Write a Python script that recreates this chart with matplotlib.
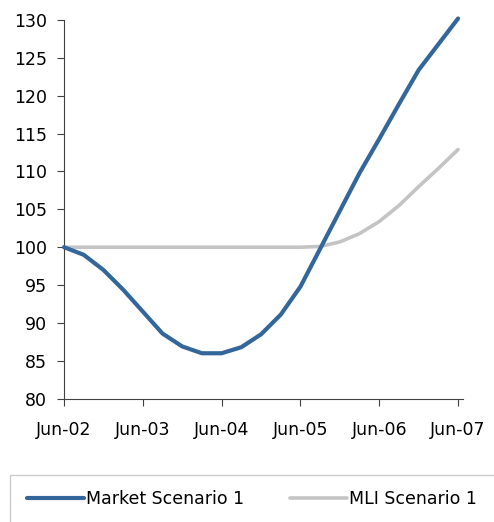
import numpy as np
import matplotlib
matplotlib.use('Agg')
import matplotlib.pyplot as plt
from matplotlib.patches import Rectangle

# quarterly points, Jun-02 .. Jun-07
market = [100, 99, 97, 94.4, 91.5, 88.6, 86.9, 86.0, 86.0, 86.8, 88.5, 91.1,
          94.8, 99.8, 104.8, 109.8, 114.3, 118.9, 123.4, 126.8, 130.2]
mli = [100, 100, 100, 100, 100, 100, 100, 100, 100, 100, 100, 100,
       100, 100.1, 100.7, 101.8, 103.4, 105.5, 108.0, 110.4, 112.9]
year_labels = ['Jun-02', 'Jun-03', 'Jun-04', 'Jun-05', 'Jun-06', 'Jun-07']

plt.rcParams['font.family'] = 'DejaVu Sans'
fs = 12.5
axis_col = '#404040'

fig = plt.figure(figsize=(4.94, 5.22), dpi=100)
ax = fig.add_axes([64/494, 123.3/522, 399/494, 378.7/522])

x = np.arange(len(market))
l1, = ax.plot(x, market, color='#33669A', lw=3.0, solid_capstyle='round',
              solid_joinstyle='round', label='Market Scenario 1', clip_on=False, zorder=3)
l2, = ax.plot(x, mli, color='#C4C4C4', lw=2.6, solid_capstyle='round',
              solid_joinstyle='round', label='MLI Scenario 1', clip_on=False, zorder=2)

ax.set_xlim(0, 20.25)
ax.set_ylim(80, 130)
ax.set_yticks(np.arange(80, 131, 5))
ax.set_xticks(np.arange(0, 21, 4))
ax.set_xticklabels(year_labels)

for s in ['top', 'right']:
    ax.spines[s].set_visible(False)
for s in ['left', 'bottom']:
    ax.spines[s].set_color(axis_col)
    ax.spines[s].set_linewidth(0.8)
ax.tick_params(axis='both', colors=axis_col, labelcolor='black', labelsize=fs,
               length=5, width=0.8)
ax.tick_params(axis='x', pad=11)
ax.tick_params(axis='y', pad=7)

# legend box
fig.patches.append(Rectangle((10/494, -0.02), 1.0, (522-475)/522 + 0.02,
                             transform=fig.transFigure, fill=False,
                             edgecolor='#CCCCCC', lw=1.0))
fig.legend(handles=[l1, l2], loc='center left', ncol=2, frameon=False,
           bbox_to_anchor=(27/494, 23/522), fontsize=fs, handlelength=3.3,
           handletextpad=0.12, columnspacing=2.6, borderpad=0, borderaxespad=0)

fig.savefig('out.png', dpi=100)
